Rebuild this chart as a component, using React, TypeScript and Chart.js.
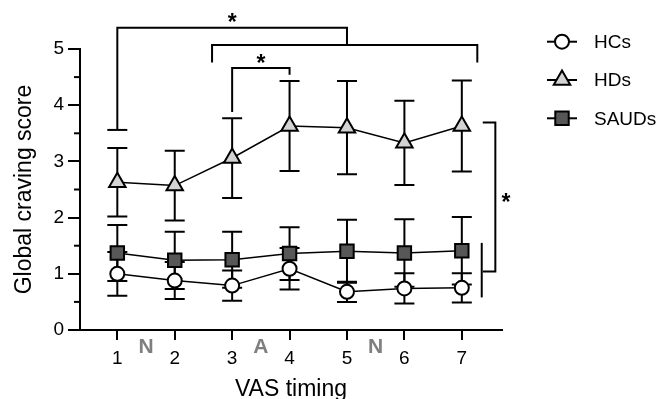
import React, { useEffect, useRef } from 'react';
import { Chart, registerables } from 'chart.js';

Chart.register(...registerables);

// ---------- data ----------
const timings = [1, 2, 3, 4, 5, 6, 7];
const xTickLabels = ['1', '2', '3', '4', '5', '6', '7'];
const yTicks = [0, 1, 2, 3, 4, 5];
const yMinorTicks = [0.5, 1.5, 2.5, 3.5, 4.5];

const seriesLabels = ['HCs', 'HDs', 'SAUDs'];
const hcMean = [1.0, 0.88, 0.79, 1.09, 0.68, 0.74, 0.75];
const hcErr = [0.39, 0.33, 0.27, 0.37, 0.18, 0.27, 0.26];
const hdMean = [2.63, 2.57, 3.06, 3.63, 3.6, 3.33, 3.63];
const hdErr = [0.61, 0.62, 0.71, 0.8, 0.83, 0.75, 0.81];
const saudMean = [1.37, 1.24, 1.25, 1.36, 1.4, 1.37, 1.41];
const saudErr = [0.5, 0.51, 0.5, 0.47, 0.56, 0.6, 0.6];

const intervalLabels = ['N', 'A', 'N'];
const intervalPositions = [1.5, 3.5, 5.5];

// significance brackets (data units)
const brackets = [
  { x1: 1, x2: 5, top: 5.38, leftEnd: 3.56, rightEnd: 5.07, leftCap: true },
  { x1: 2.65, x2: 7.27, top: 5.07, leftEnd: 4.76, rightEnd: 4.76, leftCap: false },
  { x1: 3, x2: 4, top: 4.66, leftEnd: 3.88, rightEnd: 4.54, leftCap: false },
];
const sideBracket = { xStub: 7.365, xSpine: 7.584, top: 3.69, bottom: 1.04 };
const groupLine = { x: 7.347, top: 1.55, bottom: 0.58 };
const stars = [
  { x: 3, y: 5.566 },
  { x: 3.5, y: 4.84 },
  { x: 7.77, y: 2.363 },
];

// ---------- styles ----------
const FONT = '"Liberation Sans", Arial, Helvetica, sans-serif';
const seriesStyles = [
  { shape: 'circle', radius: 7, fill: '#ffffff' },
  { shape: 'triangle', radius: 9.5, fill: '#d3d3d3' },
  { shape: 'rect', radius: 9.5, fill: '#575757' },
];
const seriesMeans = [hcMean, hdMean, saudMean];
const seriesErrs = [hcErr, hdErr, saudErr];
const CAP = 10;

function drawMarker(ctx: CanvasRenderingContext2D, shape: string, r: number, x: number, y: number, fill: string) {
  ctx.save();
  ctx.beginPath();
  if (shape === 'circle') {
    ctx.arc(x, y, r, 0, Math.PI * 2);
  } else if (shape === 'triangle') {
    let a = 0;
    ctx.moveTo(x + Math.sin(a) * r, y - Math.cos(a) * r);
    a += (2 * Math.PI) / 3;
    ctx.lineTo(x + Math.sin(a) * r, y - Math.cos(a) * r);
    a += (2 * Math.PI) / 3;
    ctx.lineTo(x + Math.sin(a) * r, y - Math.cos(a) * r);
    ctx.closePath();
  } else {
    const s = r * Math.SQRT1_2;
    ctx.rect(x - s, y - s, 2 * s, 2 * s);
  }
  ctx.fillStyle = fill;
  ctx.fill();
  ctx.lineWidth = 2;
  ctx.strokeStyle = '#000';
  ctx.stroke();
  ctx.restore();
}

const overlayPlugin = {
  id: 'overlay',
  beforeDatasetsDraw(chart: any) {
    const { ctx } = chart;
    const x = chart.scales.x;
    const y = chart.scales.y;
    ctx.save();
    ctx.strokeStyle = '#000';
    ctx.lineWidth = 2;
    [1, 2, 0].forEach((si) => {
      seriesMeans[si].forEach((m, i) => {
        const px = x.getPixelForValue(timings[i]);
        const t = y.getPixelForValue(m + seriesErrs[si][i]);
        const b = y.getPixelForValue(m - seriesErrs[si][i]);
        ctx.beginPath();
        ctx.moveTo(px, t);
        ctx.lineTo(px, b);
        ctx.moveTo(px - CAP, t);
        ctx.lineTo(px + CAP, t);
        ctx.moveTo(px - CAP, b);
        ctx.lineTo(px + CAP, b);
        ctx.stroke();
      });
    });
    ctx.restore();
  },
  afterDraw(chart: any) {
    const { ctx, chartArea } = chart;
    const x = chart.scales.x;
    const y = chart.scales.y;
    ctx.save();
    ctx.strokeStyle = '#000';
    ctx.lineWidth = 2;
    ctx.lineCap = 'butt';

    // minor y ticks
    yMinorTicks.forEach((v) => {
      const py = y.getPixelForValue(v);
      ctx.beginPath();
      ctx.moveTo(chartArea.left - 6, py);
      ctx.lineTo(chartArea.left, py);
      ctx.stroke();
    });

    // brackets
    brackets.forEach((b) => {
      const x1 = x.getPixelForValue(b.x1);
      const x2 = x.getPixelForValue(b.x2);
      const yt = y.getPixelForValue(b.top);
      const yl = y.getPixelForValue(b.leftEnd);
      const yr = y.getPixelForValue(b.rightEnd);
      ctx.beginPath();
      ctx.moveTo(x1, yl);
      ctx.lineTo(x1, yt);
      ctx.lineTo(x2, yt);
      ctx.lineTo(x2, yr);
      ctx.stroke();
      if (b.leftCap) {
        ctx.beginPath();
        ctx.moveTo(x1 - CAP, yl);
        ctx.lineTo(x1 + CAP, yl);
        ctx.stroke();
      }
    });

    // side bracket
    {
      const xs = x.getPixelForValue(sideBracket.xStub);
      const xp = x.getPixelForValue(sideBracket.xSpine);
      const yt = y.getPixelForValue(sideBracket.top);
      const yb = y.getPixelForValue(sideBracket.bottom);
      ctx.beginPath();
      ctx.moveTo(xs, yt);
      ctx.lineTo(xp, yt);
      ctx.lineTo(xp, yb);
      ctx.lineTo(xs, yb);
      ctx.stroke();
      const gx = x.getPixelForValue(groupLine.x);
      ctx.beginPath();
      ctx.moveTo(gx, y.getPixelForValue(groupLine.top));
      ctx.lineTo(gx, y.getPixelForValue(groupLine.bottom));
      ctx.stroke();
    }

    // stars
    ctx.fillStyle = '#000';
    ctx.font = `bold 23px ${FONT}`;
    ctx.textAlign = 'center';
    ctx.textBaseline = 'alphabetic';
    stars.forEach((s) => {
      ctx.fillText('*', x.getPixelForValue(s.x), y.getPixelForValue(s.y) + 0.57 * 23);
    });

    // interval labels
    ctx.fillStyle = '#7f7f7f';
    ctx.font = `bold 21px ${FONT}`;
    ctx.textBaseline = 'middle';
    intervalLabels.forEach((t, i) => {
      ctx.fillText(t, x.getPixelForValue(intervalPositions[i]), chartArea.bottom + 17.5);
    });

    // legend
    const lx0 = chartArea.right + 45;
    const lx1 = chartArea.right + 75;
    const lcx = (lx0 + lx1) / 2;
    ctx.font = `19px ${FONT}`;
    ctx.textAlign = 'left';
    ctx.fillStyle = '#000';
    chart.data.datasets.forEach((ds: any, i: number) => {
      const ly = 41.7 + i * 38.3;
      ctx.beginPath();
      ctx.moveTo(lx0, ly);
      ctx.lineTo(lx1, ly);
      ctx.strokeStyle = '#000';
      ctx.lineWidth = 2;
      ctx.stroke();
      const st = seriesStyles[i];
      drawMarker(ctx, st.shape, st.radius, lcx, ly, st.fill);
      ctx.fillStyle = '#000';
      ctx.fillText(ds.label, lx1 + 17, ly + 1);
    });
    ctx.restore();
  },
};

export default function App() {
  const ref = useRef<HTMLCanvasElement | null>(null);
  useEffect(() => {
    if (!ref.current) return;
    Chart.defaults.font.family = FONT;
    const datasets = seriesMeans.map((means, si) => ({
      label: seriesLabels[si],
      data: means.map((m, i) => ({ x: timings[i], y: m })),
      borderColor: '#000',
      borderWidth: 1.5,
      showLine: true,
      pointStyle: seriesStyles[si].shape,
      pointRadius: seriesStyles[si].radius,
      pointBackgroundColor: seriesStyles[si].fill,
      pointBorderColor: '#000',
      pointBorderWidth: 2,
      clip: false as any,
    }));
    const chart = new Chart(ref.current, {
      type: 'line',
      data: { datasets },
      options: {
        animation: false,
        responsive: false,
        devicePixelRatio: 1,
        layout: { padding: { top: 49, right: 170, left: 0, bottom: 0 } },
        plugins: { legend: { display: false }, tooltip: { enabled: false } },
        scales: {
          x: {
            type: 'linear',
            min: 0.35,
            max: 7.7,
            afterBuildTicks: (s: any) => {
              s.ticks = timings.map((v) => ({ value: v }));
            },
            afterFit: (s: any) => {
              s.height = 69;
            },
            ticks: {
              callback: (v: any) => xTickLabels[timings.indexOf(Number(v))] ?? '',
              font: { size: 19, family: FONT },
              color: '#000',
              padding: 7,
              maxRotation: 0,
              autoSkip: false,
            },
            grid: {
              drawOnChartArea: false,
              drawTicks: true,
              tickLength: 10,
              tickWidth: 2,
              tickColor: '#000',
              color: '#000',
              lineWidth: 2,
            },
            border: { display: true, color: '#000', width: 2 },
            title: {
              display: true,
              text: 'VAS timing',
              font: { size: 23, family: FONT, lineHeight: 1 },
              color: '#000',
              padding: { top: 0, bottom: -2 },
            },
          },
          y: {
            type: 'linear',
            min: 0,
            max: 5,
            afterBuildTicks: (s: any) => {
              s.ticks = yTicks.map((v) => ({ value: v }));
            },
            afterFit: (s: any) => {
              s.width = 80;
            },
            ticks: {
              font: { size: 19, family: FONT },
              color: '#000',
              padding: 4,
            },
            grid: {
              drawOnChartArea: false,
              drawTicks: true,
              tickLength: 12,
              tickWidth: 2,
              tickColor: '#000',
              color: '#000',
              lineWidth: 2,
            },
            border: { display: true, color: '#000', width: 2 },
            title: {
              display: true,
              text: 'Global craving score',
              font: { size: 23, family: FONT, lineHeight: 1 },
              color: '#000',
              padding: { top: 13, bottom: 0 },
            },
          },
        },
      },
      plugins: [overlayPlugin],
    } as any);
    return () => chart.destroy();
  }, []);
  return (
    <div style={{ position: 'absolute', left: 0, top: 0, width: 672, height: 399 }}>
      <canvas ref={ref} width={672} height={399} />
    </div>
  );
}
